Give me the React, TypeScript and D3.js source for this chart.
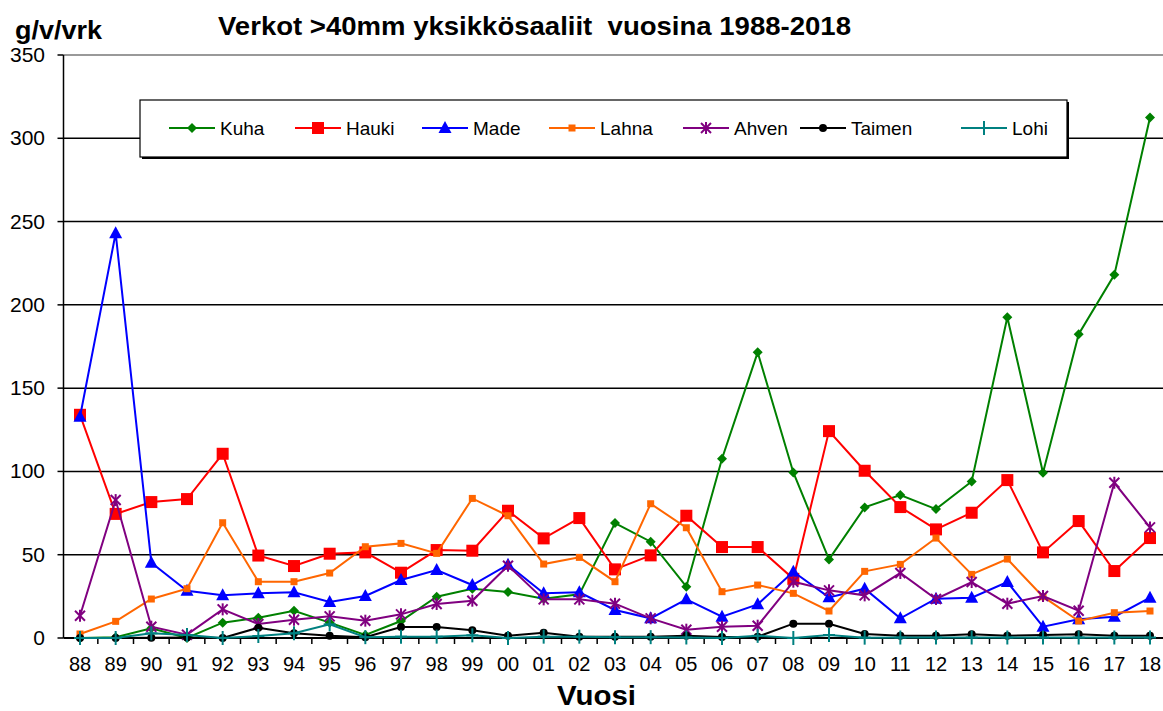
import React from "react";
import * as d3 from "d3";

const years = ["88","89","90","91","92","93","94","95","96","97","98","99","00","01","02","03","04","05","06","07","08","09","10","11","12","13","14","15","16","17","18"];
const kuha = [0,0.5,5.8,0,9.2,12.2,16.4,9.2,1.8,10.2,24.8,29.6,27.6,23.6,26.2,69,57.8,30.8,107.6,171.5,99.4,47.2,78.4,85.8,77.4,94,192.6,99.2,182.4,218,312.5];
const hauki = [134,74.5,81.6,83.4,110.6,49.5,43.2,50.6,51.4,39.2,52.8,52.4,76.4,59.8,72,41.2,49.6,73.4,54.6,54.6,35.5,124.2,100.4,78.6,65.2,75.2,94.8,51.4,70.2,40.2,60];
const made = [132.8,243,45.2,28.4,25.6,26.8,27.4,21.6,25.2,34.8,40.8,31.8,44,26.8,27.4,16.8,11.8,23.2,12.8,20.2,39.8,24.4,29.6,11.8,23.6,24.2,33.6,6.8,11.2,12.8,24.2];
const lahna = [2.4,10,23.4,29.6,69.2,33.8,33.8,39,54.8,56.8,50.8,83.8,73.4,44.4,48.4,33.8,80.6,66.2,27.8,31.8,26.8,16.2,40,44.2,60,38.2,47.4,24.8,10.2,15.2,16.2];
const ahven = [13.4,82.8,6.8,2,17.2,8.4,11,13,10.4,14.2,20.4,22.4,43.4,23.2,23.2,20.6,11.8,5,6.8,7.4,33.8,28.6,25.6,39,23.4,33.6,20.6,25.2,16.4,93.2,66.4];
const taimen = [0,0,0.2,0.3,0,6.2,2.8,1.4,0.5,6.6,6.6,4.6,1.4,3.2,0.8,0.8,0.8,1.4,0.6,0.8,8.6,8.6,2.4,1.4,1.4,2.2,1.4,1.8,2.2,1.4,1.4];
const lohi = [0,0,2.8,1.8,0,1.2,2.8,8.2,0.5,0.8,0.8,1.6,0,0.8,0.8,0.5,0.5,0.3,0,1.3,0,1.8,0.2,0.3,0.3,0.3,0.3,0.3,0.3,0.3,0.3];
const yTicks = [0,50,100,150,200,250,300,350];
const seriesNames = ["Kuha","Hauki","Made","Lahna","Ahven","Taimen","Lohi"];
const seriesColors = ["#008000","#FF0000","#0000FF","#FF6600","#800080","#000000","#008080"];
const seriesMarkers = ["diamond","square","triangle","smallsquare","asterisk","circle","plus"];
const seriesValues = [kuha,hauki,made,lahna,ahven,taimen,lohi];

const W = 1163, H = 711;
const x = d3.scalePoint<string>().domain(years).range([80, 1150]);
const y = d3.scaleLinear().domain([0, 350]).range([638, 55]);
const step = x.step();
const axisX = 63.5;

function Marker({ kind, cx, cy, color }: { kind: string; cx: number; cy: number; color: string }) {
  switch (kind) {
    case "diamond":
      return <path d={`M${cx},${cy - 5}L${cx + 5},${cy}L${cx},${cy + 5}L${cx - 5},${cy}Z`} fill={color} />;
    case "square":
      return <rect x={cx - 6} y={cy - 6} width={12} height={12} fill={color} />;
    case "triangle":
      return <path d={`M${cx},${cy - 7}L${cx + 6.5},${cy + 5}L${cx - 6.5},${cy + 5}Z`} fill={color} />;
    case "smallsquare":
      return <rect x={cx - 3.5} y={cy - 3.5} width={7} height={7} fill={color} />;
    case "asterisk":
      return (
        <g stroke={color} strokeWidth={2}>
          <line x1={cx - 5} y1={cy - 5} x2={cx + 5} y2={cy + 5} />
          <line x1={cx - 5} y1={cy + 5} x2={cx + 5} y2={cy - 5} />
          <line x1={cx} y1={cy - 6} x2={cx} y2={cy + 6} />
        </g>
      );
    case "circle":
      return <circle cx={cx} cy={cy} r={4} fill={color} />;
    case "plus":
      return (
        <g stroke={color} strokeWidth={2}>
          <line x1={cx - 6} y1={cy} x2={cx + 6} y2={cy} />
          <line x1={cx} y1={cy - 7} x2={cx} y2={cy + 7} />
        </g>
      );
  }
  return null;
}

const legendX = [169, 295, 422, 549, 683, 800, 961];

export default function App() {
  const line = d3.line<number>().x((_, i) => x(years[i]) as number).y((v) => y(v));
  return (
    <svg width={W} height={H} style={{ position: "absolute", left: 0, top: 0, background: "#fff" }} fontFamily="Arial, 'Liberation Sans', sans-serif">
      <rect x={0} y={0} width={W} height={H} fill="#fff" />
      {/* gridlines */}
      {yTicks.filter((t) => t > 0).map((t) => (
        <line key={t} x1={axisX} x2={W} y1={y(t)} y2={y(t)} stroke={t === 350 ? "#999" : "#000"} strokeWidth={t === 350 ? 2 : 1.5} />
      ))}
      {/* y axis */}
      <line x1={axisX} x2={axisX} y1={y(350)} y2={y(0)} stroke="#000" strokeWidth={1.5} />
      {yTicks.map((t) => (
        <g key={t}>
          <line x1={axisX - 6} x2={axisX} y1={y(t)} y2={y(t)} stroke="#000" strokeWidth={1.5} />
          <text x={45} y={y(t) + 7} fontSize={21} textAnchor="end" fill="#000">{t}</text>
        </g>
      ))}
      {/* x axis */}
      <line x1={axisX} x2={W} y1={y(0)} y2={y(0)} stroke="#000" strokeWidth={2} />
      {years.map((yr) => (
        <g key={yr}>
          <line x1={(x(yr) as number) + step / 2} x2={(x(yr) as number) + step / 2} y1={y(0)} y2={y(0) + 6} stroke="#000" strokeWidth={1.5} />
          <text x={x(yr) as number} y={671} fontSize={20} textAnchor="middle" fill="#000">{yr}</text>
        </g>
      ))}
      {/* series */}
      {seriesValues.map((vals, si) => (
        <g key={seriesNames[si]}>
          <path d={line(vals) || ""} fill="none" stroke={seriesColors[si]} strokeWidth={2} />
          {vals.map((v, i) => (
            <Marker key={i} kind={seriesMarkers[si]} cx={x(years[i]) as number} cy={y(v)} color={seriesColors[si]} />
          ))}
        </g>
      ))}
      {/* legend */}
      <rect x={142} y={102} width={927} height={57} fill="#000" />
      <rect x={140} y={100} width={927} height={57} fill="#fff" stroke="#000" strokeWidth={1.2} />
      {seriesNames.map((n, si) => (
        <g key={n}>
          <line x1={legendX[si]} x2={legendX[si] + 46} y1={128} y2={128} stroke={seriesColors[si]} strokeWidth={2} />
          <Marker kind={seriesMarkers[si]} cx={legendX[si] + 23} cy={128} color={seriesColors[si]} />
          <text x={legendX[si] + 51} y={135} fontSize={19} fill="#000">{n}</text>
        </g>
      ))}
      {/* titles */}
      <text x={218} y={35} fontSize={25} fontWeight="bold" fill="#000" textLength={633} lengthAdjust="spacingAndGlyphs" style={{ whiteSpace: "pre" }}>Verkot &gt;40mm yksikkösaaliit  vuosina 1988-2018</text>
      <text x={15} y={39} fontSize={25} fontWeight="bold" fill="#000" textLength={87} lengthAdjust="spacingAndGlyphs">g/v/vrk</text>
      <text x={557} y={705} fontSize={27} fontWeight="bold" fill="#000" textLength={79} lengthAdjust="spacingAndGlyphs">Vuosi</text>
    </svg>
  );
}
